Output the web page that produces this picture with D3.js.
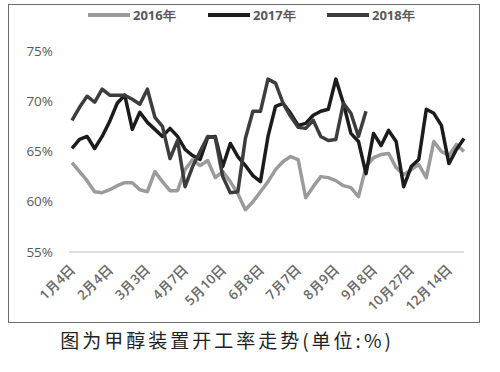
<!DOCTYPE html>
<html>
<head>
<meta charset="utf-8">
<script src="https://cdn.jsdelivr.net/npm/d3@7"></script>
<style>
  html,body{margin:0;padding:0;background:#fff;}
  svg{display:block;}
</style>
</head>
<body>
<svg id="chart" width="500" height="372"></svg>
<script>
// tick labels, shown every 5th week
var tickLabels=['1月4日','2月4日','3月3日','4月7日','5月10日','6月8日','7月7日','8月9日','9月8日','10月27日','12月14日']
var years=['2016年','2017年','2018年']
var y2016=[63.9,63.0,62.1,61.0,60.9,61.2,61.6,61.9,61.9,61.2,
           61.0,63.0,62.0,61.1,61.1,63.2,64.2,63.6,64.1,62.4,
           63.0,62.0,60.8,59.2,60.0,61.0,62.0,63.2,64.0,64.5,
           64.2,60.4,61.5,62.5,62.4,62.1,61.6,61.4,60.5,63.5,
           64.4,64.7,64.8,63.4,62.7,63.2,63.7,62.4,66.0,65.0,
           64.6,65.7,65.0]
var y2017=[65.3,66.2,66.5,65.3,66.5,68.0,69.8,70.6,67.2,68.9,
           67.9,67.2,66.5,67.3,66.5,65.2,64.6,64.2,66.4,66.5,
           63.5,65.8,64.5,63.6,62.6,62.0,66.5,69.5,69.8,68.8,
           67.6,67.8,68.6,69.0,69.2,72.2,69.8,66.8,66.0,62.8,
           66.8,65.6,67.1,66.0,61.5,63.5,64.2,69.2,68.8,67.6,
           63.8,65.2,66.3]
var y2018=[68.1,69.4,70.5,69.9,71.2,70.6,70.6,70.6,70.2,69.7,
           71.2,68.4,67.5,64.3,66.1,61.5,63.5,65.0,66.5,66.4,
           62.5,60.9,61.0,66.3,69.0,69.0,72.2,71.8,69.8,68.5,
           67.4,67.3,68.1,66.5,66.1,66.2,69.8,68.8,66.5,69.0]
var yTicks=[55,60,65,70,75]
var caption='图为甲醇装置开工率走势(单位:%)'

display()

function display()
{
    var svg=d3.select('#chart')
    var conf={
        width:500,
        height:372,
        tickEvery:5,
        colors:['#9b9b9b','#1c1c1c','#3d3d3d'],
        font:'"Open Sans","DejaVu Sans",sans-serif'
    }
    let plot={left:72,right:464,top:51,bottom:252}

    // outer frame
    svg.append('rect')
        .attr('x',8.5).attr('y',4.5)
        .attr('width',471).attr('height',318)
        .attr('fill','#fff')
        .attr('stroke','#6b6b6b')
        .attr('stroke-width',1)

    var x=d3.scaleLinear().domain([0,52]).range([plot.left,plot.right])
    var y=d3.scaleLinear().domain([55,75]).range([plot.bottom,plot.top])

    // y labels
    svg.append('g')
        .selectAll('text')
        .data(yTicks)
        .join('text')
        .attr('x',53)
        .attr('y',d=>y(d))
        .attr('dy','0.35em')
        .attr('text-anchor','end')
        .attr('font-family',conf.font)
        .attr('font-size',13.5)
        .attr('fill','#595959')
        .text(d=>d+'%')

    // baseline
    svg.append('line')
        .attr('x1',plot.left-3).attr('x2',plot.right)
        .attr('y1',y(55)).attr('y2',y(55))
        .attr('stroke','#d4d4d4')
        .attr('stroke-width',1.5)

    // x labels, rotated
    svg.append('g')
        .selectAll('text')
        .data(tickLabels)
        .join('text')
        .attr('transform',(d,i)=>`translate(${x(i*conf.tickEvery)+4},${y(55)+18}) rotate(-45)`)
        .attr('text-anchor','end')
        .attr('font-family',conf.font)
        .attr('font-size',13.5)
        .attr('font-weight',600)
        .attr('fill','#6a6a6a')
        .text(d=>d)

    var lineGen=d3.line().x((d,i)=>x(i)).y(d=>y(d))
    var series=[y2016,y2017,y2018]
    svg.append('g')
        .selectAll('path')
        .data(series)
        .join('path')
        .attr('d',lineGen)
        .attr('fill','none')
        .attr('stroke',(d,i)=>conf.colors[i])
        .attr('stroke-width',3.5)
        .attr('stroke-linejoin','round')

    // legend
    var legendX=[88,208,327]
    var lg=svg.append('g')
        .selectAll('g')
        .data(years)
        .join('g')
        .attr('transform',(d,i)=>`translate(${legendX[i]},15)`)
    lg.append('line')
        .attr('x1',0).attr('x2',42)
        .attr('stroke',(d,i)=>conf.colors[i])
        .attr('stroke-width',4)
    lg.append('text')
        .attr('x',45)
        .attr('dy','0.35em')
        .attr('font-family',conf.font)
        .attr('font-size',13)
        .attr('font-weight','bold')
        .attr('fill','#595959')
        .text(d=>d)

    // caption below the frame
    svg.append('text')
        .attr('x',227)
        .attr('y',348)
        .attr('text-anchor','middle')
        .attr('font-family','"Noto Sans CJK SC",sans-serif')
        .attr('font-size',19)
        .attr('letter-spacing',3)
        .attr('fill','#222')
        .text(caption)
}
</script>
</body>
</html>
